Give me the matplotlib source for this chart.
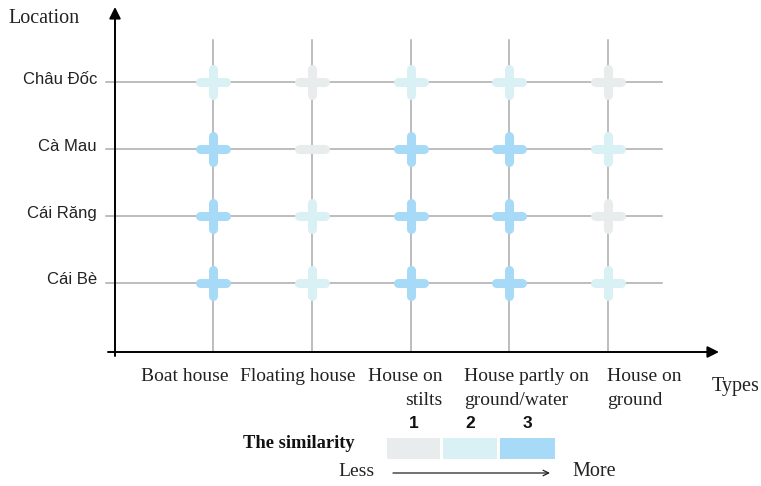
import matplotlib
matplotlib.use("Agg")
import matplotlib.pyplot as plt
from matplotlib.markers import MarkerStyle
from matplotlib.patches import Rectangle

# ---------------- data ----------------
locations = ["Châu Đốc", "Cà Mau", "Cái Răng", "Cái Bè"]          # top to bottom
types = ["Boat house", "Floating house", "House on\nstilts",
         "House partly on\nground/water", "House on\nground"]
# similarity level (1 = less, 3 = more), rows follow `locations`
similarity = [
    [2, 1, 2, 2, 1],
    [3, 1, 3, 3, 2],
    [3, 2, 3, 3, 1],
    [3, 2, 3, 3, 2],
]
# marker shape per cell ('+' full cross, '_' horizontal bar only)
shapes = [
    ["+", "+", "+", "+", "+"],
    ["+", "_", "+", "+", "+"],
    ["+", "+", "+", "+", "+"],
    ["+", "+", "+", "+", "+"],
]
levels = [1, 2, 3]
level_colors = {1: "#e9eced", 2: "#d9f0f5", 3: "#a6daf7"}
legend_title = "The similarity"
less_label, more_label = "Less", "More"
x_axis_label, y_axis_label = "Types", "Location"

# ---------------- layout helpers (pixel -> data) ----------------
W, H = 761, 486
X0, DX = 213.0, 98.75
Y0, DY = 283.0, 67.0
def X(px): return (px - X0) / DX
def Y(py): return (Y0 - py) / DY

fig = plt.figure(figsize=(W / 100, H / 100), dpi=100)
ax = fig.add_axes([0, 0, 1, 1])
ax.set_xlim(X(0), X(W))
ax.set_ylim(Y(H), Y(0))
ax.axis("off")

serif = "Liberation Serif"
sans = "Liberation Sans"
n_rows = len(locations)
xs = list(range(len(types)))
row_y = [n_rows - 1 - j for j in range(n_rows)]

# grid lines
for y in row_y:
    ax.plot([X(106), X(662)], [y, y], color="#ababab", lw=1.1, zorder=1)
for x in xs:
    ax.plot([x, x], [Y(40), Y(352)], color="#ababab", lw=1.1, zorder=1)

# axes with arrows
ax.annotate("", xy=(X(719), Y(352)), xytext=(X(108), Y(352)),
            arrowprops=dict(arrowstyle="-|>", lw=1.4, color="black",
                            mutation_scale=17, shrinkA=0, shrinkB=0), zorder=3)
ax.annotate("", xy=(X(115), Y(7)), xytext=(X(115), Y(356)),
            arrowprops=dict(arrowstyle="-|>", lw=1.4, color="black",
                            mutation_scale=17, shrinkA=0, shrinkB=0), zorder=3)

# markers
for j, row in enumerate(similarity):
    for i, v in enumerate(row):
        m = MarkerStyle(shapes[j][i], capstyle="round")
        ax.plot([xs[i]], [row_y[j]], linestyle="none", marker=m,
                markersize=19, markeredgewidth=6.5,
                markeredgecolor=level_colors[v], zorder=4)

# row labels
for j, name in enumerate(locations):
    ax.text(X(97), row_y[j] + 3 / DY, name, ha="right", va="center",
            fontsize=12, family=sans, color="#222222")

# column labels
col_label_pos = [(185, "center"), (298, "center"), (442, "right"),
                 (464, "left"), (607, "left")]
for (px, ha), name in zip(col_label_pos, types):
    ax.text(X(px), Y(368), name, ha=ha, va="top", multialignment=ha,
            fontsize=14, family=serif, color="#222222", linespacing=1.55)

ax.text(X(8), Y(18), y_axis_label, ha="left", va="center",
        fontsize=14.5, family=serif, color="#222222")
ax.text(X(712), Y(386), x_axis_label, ha="left", va="center",
        fontsize=14.5, family=serif, color="#222222")

# legend
ax.text(X(243), Y(443), legend_title, ha="left", va="center",
        fontsize=13.3, family=serif, weight="bold", color="#111111")
box_left = [387, 443, 500]
box_w = [53, 54, 55]
for lv, bl, bw in zip(levels, box_left, box_w):
    ax.add_patch(Rectangle((X(bl), Y(459)), bw / DX, 21 / DY,
                           facecolor=level_colors[lv], edgecolor="none", zorder=2))
    ax.text(X(bl + bw / 2), Y(423), str(lv), ha="center", va="center",
            fontsize=12.5, family=sans, weight="bold", color="#111111")
ax.text(X(338), Y(472), less_label, ha="left", va="center",
        fontsize=14, family=serif, color="#222222")
ax.text(X(572), Y(472), more_label, ha="left", va="center",
        fontsize=14.5, family=serif, color="#222222")
ax.annotate("", xy=(X(550), Y(473)), xytext=(X(393), Y(473)),
            arrowprops=dict(arrowstyle="->", lw=0.9, color="#222222",
                            mutation_scale=10, shrinkA=0, shrinkB=0))

fig.savefig("out.png", dpi=100, facecolor="white")
